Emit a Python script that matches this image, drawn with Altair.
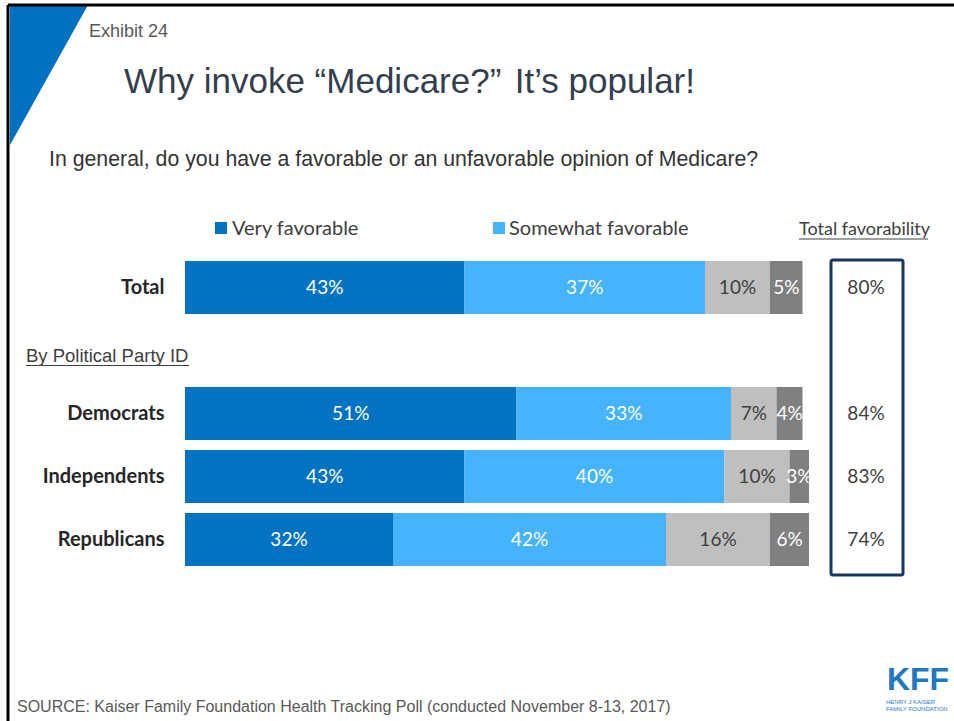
import altair as alt
import pandas as pd

groups = ["Total", "Democrats", "Independents", "Republicans"]
row_order = ["Total", " ", "Democrats", "Independents", "Republicans"]
series = ["Very favorable", "Somewhat favorable", "Somewhat unfavorable", "Very unfavorable"]
very_fav = [43, 51, 43, 32]
somewhat_fav = [37, 33, 40, 42]
somewhat_unfav = [10, 7, 10, 16]
very_unfav = [5, 4, 3, 6]
total_fav = [80, 84, 83, 74]

colors = ["#0272C2", "#45B3FD", "#BFBFBF", "#808080"]

rows = []
for i, g in enumerate(groups):
    for j, (s, vals) in enumerate(zip(series, [very_fav, somewhat_fav, somewhat_unfav, very_unfav])):
        rows.append({"group": g, "series": s, "idx": j, "value": vals[i]})
df = pd.DataFrame(rows)
tot_df = pd.DataFrame({"group": groups, "total": total_fav})

OX, OY = 185, 256  # plot origin on page
W, H = 728, 315

yscale = alt.Scale(domain=row_order, paddingInner=0.16, paddingOuter=0.08)
xscale = alt.Scale(domain=[0, 112], nice=False, zero=True)

base = alt.Chart(df).transform_stack(
    stack="value", groupby=["group"], as_=["x0", "x1"], sort=[alt.SortField("idx")]
).transform_calculate(mid="(datum.x0 + datum.x1) / 2", label="datum.value + '%'")

bars = base.mark_bar().encode(
    y=alt.Y("group:N", scale=yscale, sort=row_order,
            axis=alt.Axis(title=None, domain=False, ticks=False, grid=False,
                          labelFontSize=20, labelFontWeight="bold", labelFont="Lato",
                          labelColor="#262626", labelPadding=21)),
    x=alt.X("x0:Q", scale=xscale, axis=None),
    x2="x1:Q",
    color=alt.Color("series:N", scale=alt.Scale(domain=series, range=colors), legend=None),
)

lab_white = base.transform_filter("datum.series != 'Somewhat unfavorable'").mark_text(
    font="Lato", fontSize=19, color="white", baseline="middle"
).encode(y=alt.Y("group:N", scale=yscale, sort=row_order), x=alt.X("mid:Q", scale=xscale), text="label:N")

lab_dark = base.transform_filter("datum.series == 'Somewhat unfavorable'").mark_text(
    font="Lato", fontSize=19, color="#404040", baseline="middle"
).encode(y=alt.Y("group:N", scale=yscale, sort=row_order), x=alt.X("mid:Q", scale=xscale), text="label:N")

tot_text = alt.Chart(tot_df).transform_calculate(label="datum.total + '%'").mark_text(
    font="Lato", fontSize=19, color="#404040", baseline="middle"
).encode(y=alt.Y("group:N", scale=yscale, sort=row_order), x=alt.value(866 - OX), text="label:N")

one = pd.DataFrame({"a": [0]})


def txt(text, x, y, size, color, font="Liberation Sans", weight="normal", align="left"):
    return alt.Chart(one).mark_text(
        text=text, font=font, fontSize=size, color=color, fontWeight=weight,
        align=align, baseline="alphabetic"
    ).encode(x=alt.value(x - OX), y=alt.value(y - OY))


def rule(x1, y1, x2, y2, color, width):
    return alt.Chart(one).mark_rule(color=color, strokeWidth=width).encode(
        x=alt.value(x1 - OX), x2=alt.value(x2 - OX), y=alt.value(y1 - OY), y2=alt.value(y2 - OY))


def square(x, y, s, color):
    return alt.Chart(one).mark_rect(color=color).encode(
        x=alt.value(x - OX), x2=alt.value(x + s - OX), y=alt.value(y - OY), y2=alt.value(y + s - OY))


box = alt.Chart(one).mark_rect(fill="white", fillOpacity=0, stroke="#17375E", strokeWidth=3,
                                cornerRadius=2).encode(
    x=alt.value(831 - OX), x2=alt.value(903 - OX), y=alt.value(260 - OY), y2=alt.value(575 - OY))

triangle = alt.Chart(one).mark_point(
    shape="M-0.557,-1 L0.557,-1 L-0.557,1 Z", size=19600, filled=True, fill="#0070C0",
    strokeWidth=0, opacity=1
).encode(x=alt.value(49 - OX), y=alt.value(75 - OY))

layers = [
    triangle,
    rule(8, 5, 954, 5, "#000000", 3),
    rule(8, 5, 8, 721, "#000000", 3),
    txt("Exhibit 24", 89, 37, 18, "#595959"),
    txt("Why invoke \u201cMedicare?\u201d", 124, 93, 35, "#333F4F"),
    txt("It\u2019s popular!", 695, 93, 35, "#333F4F", align="right"),
    txt("In general, do you have a favorable or an unfavorable opinion of Medicare?", 49, 166, 21.3, "#333333"),
    square(215, 222, 12, colors[0]),
    txt("Very favorable", 232, 235, 20, "#404040", font="Lato"),
    square(493, 222, 12, colors[1]),
    txt("Somewhat favorable", 509, 235, 20, "#404040", font="Lato"),
    txt("Total favorability", 799, 235, 18, "#404040", font="Lato"),
    rule(799, 239, 928, 239, "#404040", 1),
    txt("By Political Party ID", 26, 362, 18.5, "#404040"),
    rule(26, 365.5, 189, 365.5, "#404040", 1),
    bars, lab_white, lab_dark, box, tot_text,
    txt("SOURCE: Kaiser Family Foundation Health Tracking Poll (conducted November 8-13, 2017)",
        17, 712, 16, "#595959"),
    txt("KFF", 918, 690, 32, "#1F78C1", weight="bold", align="center"),
    txt("HENRY J KAISER", 886, 704, 6, "#1F78C1"),
    txt("FAMILY FOUNDATION", 886, 711, 6, "#1F78C1"),
]

chart = alt.layer(*layers).properties(
    width=W, height=H,
    background="white",
    autosize=alt.AutoSizeParams(type="none"),
    padding={"left": OX, "top": OY, "right": 954 - OX - W, "bottom": 721 - OY - H},
).configure_view(strokeWidth=0, stroke="transparent")

chart.save("out.html", embed_options={"renderer": "svg", "actions": False})
